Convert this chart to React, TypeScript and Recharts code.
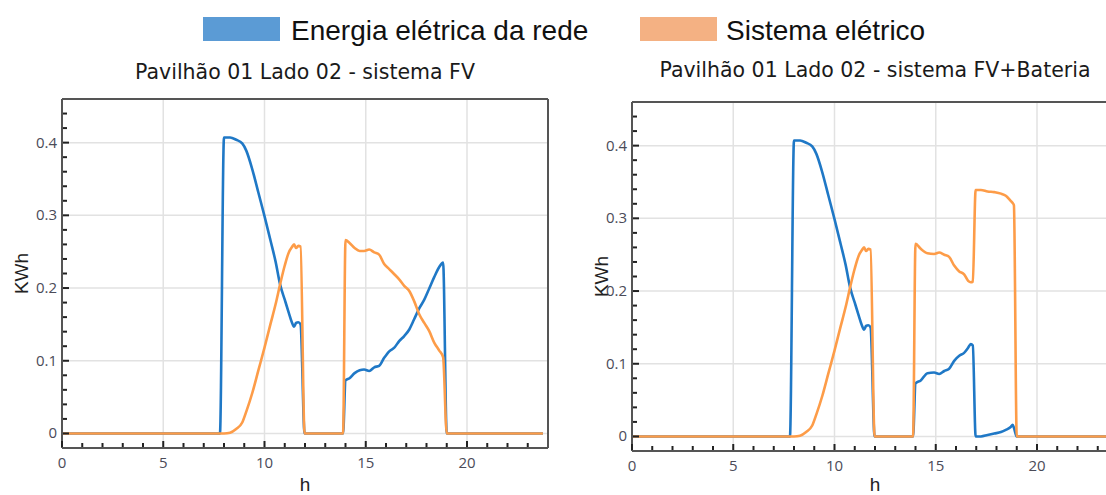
import React from 'react';
import { LineChart, Line, XAxis, YAxis, CartesianGrid } from 'recharts';

// hours of the day (h) for the "sistema FV" panel
const hoursFV = [
  0, 7.8, 8.0, 8.3, 8.6, 8.9, 9.1, 9.4, 9.7, 10.0,
  10.3, 10.55, 10.77, 11.0, 11.2, 11.35, 11.46, 11.56, 11.67, 11.78,
  11.98, 13.88, 14.0, 14.2, 14.45, 14.7, 14.92, 15.17, 15.42, 15.66,
  15.91, 16.16, 16.41, 16.65, 16.9, 17.15, 17.39, 17.64, 17.89, 18.13,
  18.38, 18.63, 18.82, 19.0, 23.75,
];
const redeFV = [
  0, 0, 0.407, 0.407, 0.404, 0.399, 0.389, 0.363, 0.331, 0.299,
  0.265, 0.236, 0.205, 0.184, 0.166, 0.153, 0.147, 0.152, 0.153, 0.15,
  0, 0, 0.073, 0.076, 0.083, 0.087, 0.088, 0.086, 0.091, 0.093,
  0.104, 0.113, 0.118, 0.127, 0.134, 0.143, 0.157, 0.172, 0.184, 0.199,
  0.215, 0.229, 0.235, 0, 0,
];
const sistemaFV = [
  0, 0, 0, 0.001, 0.006, 0.015, 0.03, 0.056, 0.087, 0.118,
  0.151, 0.178, 0.205, 0.231, 0.249, 0.256, 0.26, 0.255, 0.258, 0.257,
  0, 0, 0.266, 0.262, 0.255, 0.251, 0.251, 0.253, 0.249, 0.246,
  0.233, 0.226, 0.219, 0.212, 0.203, 0.196, 0.182, 0.164, 0.152, 0.141,
  0.125, 0.114, 0.105, 0, 0,
];

// hours of the day (h) for the "sistema FV+Bateria" panel
const hoursBat = [
  0, 7.8, 8.0, 8.3, 8.6, 8.9, 9.1, 9.4, 9.7, 10.0,
  10.3, 10.55, 10.77, 11.0, 11.2, 11.35, 11.46, 11.56, 11.67, 11.78,
  11.98, 13.88, 14.0, 14.26, 14.59, 14.92, 15.17, 15.42, 15.66, 15.91,
  16.16, 16.4, 16.6, 16.73, 16.83, 16.97, 17.23, 17.56, 17.89, 18.22,
  18.46, 18.7, 18.8, 18.86, 19.0, 23.75,
];
const redeBat = [
  0, 0, 0.407, 0.407, 0.404, 0.399, 0.389, 0.363, 0.331, 0.299,
  0.265, 0.236, 0.205, 0.184, 0.166, 0.153, 0.147, 0.152, 0.153, 0.15,
  0, 0, 0.073, 0.077, 0.087, 0.088, 0.086, 0.09, 0.093, 0.104,
  0.111, 0.115, 0.122, 0.127, 0.125, 0, 0, 0.002, 0.004, 0.006,
  0.009, 0.013, 0.016, 0.012, 0, 0,
];
const sistemaBat = [
  0, 0, 0, 0.001, 0.006, 0.015, 0.03, 0.056, 0.087, 0.118,
  0.151, 0.178, 0.205, 0.231, 0.249, 0.256, 0.26, 0.255, 0.258, 0.257,
  0, 0, 0.265, 0.258, 0.252, 0.251, 0.253, 0.25, 0.247, 0.235,
  0.227, 0.223, 0.214, 0.212, 0.213, 0.339, 0.339, 0.337, 0.336, 0.334,
  0.331, 0.324, 0.321, 0.318, 0, 0,
];

const xMajorTicks = [0, 5, 10, 15, 20];
const xMinorTicks = [1, 2, 3, 4, 6, 7, 8, 9, 11, 12, 13, 14, 16, 17, 18, 19, 21, 22, 23];
const yMajorTicks = [0, 0.1, 0.2, 0.3, 0.4];
const yMinorTicks = [
  0.02, 0.04, 0.06, 0.08, 0.12, 0.14, 0.16, 0.18, 0.22, 0.24,
  0.26, 0.28, 0.32, 0.34, 0.36, 0.38, 0.42, 0.44,
];

const seriesNames = ['Energia elétrica da rede', 'Sistema elétrico'];
const panelTitles = ['Pavilhão 01 Lado 02 - sistema FV', 'Pavilhão 01 Lado 02 - sistema FV+Bateria'];

const BLUE = '#1f78c6';
const ORANGE = '#fd9c48';
const FRAME = '#555555';
const TICK_MARK = '#222';
const TICK_FONT = { fill: '#4b4b58', fontSize: 15, fontFamily: 'Open Sans' };

const toRows = (hours: number[], rede: number[], sistema: number[]) =>
  hours.map((h, i) => ({ h, rede: rede[i], sistema: sistema[i] }));

// inward tick marks: long on labelled values, short on the minor ones
const XTick = (props: any) => {
  const { x, y, payload } = props;
  const major = xMajorTicks.includes(payload.value);
  const len = major ? 6 : 4;
  return (
    <g className="x-tick">
      <path d={`M${x},${y - 1}V${y - 1 - len}`} stroke={TICK_MARK} strokeWidth={2} fill="none" />
      {major && (
        <text x={x} y={y + 20} textAnchor="middle" {...TICK_FONT}>{payload.value}</text>
      )}
    </g>
  );
};

const YTick = (props: any) => {
  const { x, y, payload } = props;
  const major = yMajorTicks.includes(payload.value);
  const len = major ? 6 : 4;
  return (
    <g className="y-tick">
      <path d={`M${x + 1},${y}H${x + 1 + len}`} stroke={TICK_MARK} strokeWidth={2} fill="none" />
      {major && (
        <text x={x - 5} y={y + 5} textAnchor="end" {...TICK_FONT}>{payload.value}</text>
      )}
    </g>
  );
};

// plot box is 486 x 349 px; 1px top/right axes only draw the frame
const Panel = ({ data, plotTop, labelDx }: { data: any[]; plotTop: number; labelDx: number }) => {
  const xDomain = [0, 24];
  const yDomain = [-0.02, 0.46];
  return (
    <LineChart width={560} height={495} data={data} margin={{ top: plotTop - 1, right: 11, bottom: 0, left: 0 }}>
      <CartesianGrid stroke="#e2e2e2" strokeWidth={1.5} verticalValues={xMajorTicks} horizontalValues={yMajorTicks} />
      <XAxis
        dataKey="h"
        type="number"
        domain={xDomain}
        ticks={[...xMajorTicks, ...xMinorTicks]}
        interval={0}
        allowDataOverflow
        height={495 - plotTop - 349}
        tickLine={false}
        tickSize={0}
        tickMargin={0}
        axisLine={{ stroke: FRAME, strokeWidth: 2 }}
        tick={XTick}
        label={{ value: 'h', position: 'insideBottom', offset: 4, fill: '#222', fontSize: 19, fontFamily: 'Liberation Sans' }}
      />
      <XAxis xAxisId="top" orientation="top" type="number" domain={xDomain} allowDataOverflow
        height={1} tick={false} tickLine={false} axisLine={{ stroke: FRAME, strokeWidth: 2 }} />
      <YAxis
        type="number"
        domain={yDomain}
        ticks={[...yMajorTicks, ...yMinorTicks]}
        interval={0}
        allowDataOverflow
        width={62}
        tickLine={false}
        tickSize={0}
        tickMargin={0}
        axisLine={{ stroke: FRAME, strokeWidth: 2 }}
        tick={YTick}
        label={{ value: 'KWh', angle: -90, position: 'center', dx: labelDx, fill: '#222', fontSize: 19, fontFamily: 'Liberation Sans' }}
      />
      <YAxis yAxisId="right" orientation="right" type="number" domain={yDomain} allowDataOverflow
        width={1} tick={false} tickLine={false} axisLine={{ stroke: FRAME, strokeWidth: 2 }} />
      <Line type="monotone" dataKey="rede" name={seriesNames[0]} stroke={BLUE} strokeWidth={2.6} dot={false} isAnimationActive={false} />
      <Line type="monotone" dataKey="sistema" name={seriesNames[1]} stroke={ORANGE} strokeWidth={2.6} dot={false} isAnimationActive={false} />
    </LineChart>
  );
};

export default function App() {
  const fv = toRows(hoursFV, redeFV, sistemaFV);
  const bat = toRows(hoursBat, redeBat, sistemaBat);
  return (
    <div style={{ position: 'absolute', left: 0, top: 0, width: 1106, height: 495, overflow: 'hidden', background: '#fff' }}>
      <svg width={1106} height={495} style={{ position: 'absolute', left: 0, top: 0 }}>
        <rect x={203} y={17} width={77} height={24} fill="#5b9bd5" />
        <text x={291} y={40} fontSize={28} fontFamily="Liberation Sans" fill="#111">{seriesNames[0]}</text>
        <rect x={640} y={17} width={77} height={24} fill="#f4b183" />
        <text x={726} y={40} fontSize={28} fontFamily="Liberation Sans" fill="#111">{seriesNames[1]}</text>
        <text x={305} y={79} textAnchor="middle" fontSize={20.5} fontFamily="DejaVu Sans" fill="#1a1a1a">{panelTitles[0]}</text>
        <text x={875} y={77} textAnchor="middle" fontSize={20.5} fontFamily="DejaVu Sans" fill="#1a1a1a">{panelTitles[1]}</text>
      </svg>
      <div style={{ position: 'absolute', left: 0, top: 0 }}>
        <Panel data={fv} plotTop={99} labelDx={-10} />
      </div>
      <div style={{ position: 'absolute', left: 570, top: 0 }}>
        <Panel data={bat} plotTop={102} labelDx={0} />
      </div>
    </div>
  );
}
